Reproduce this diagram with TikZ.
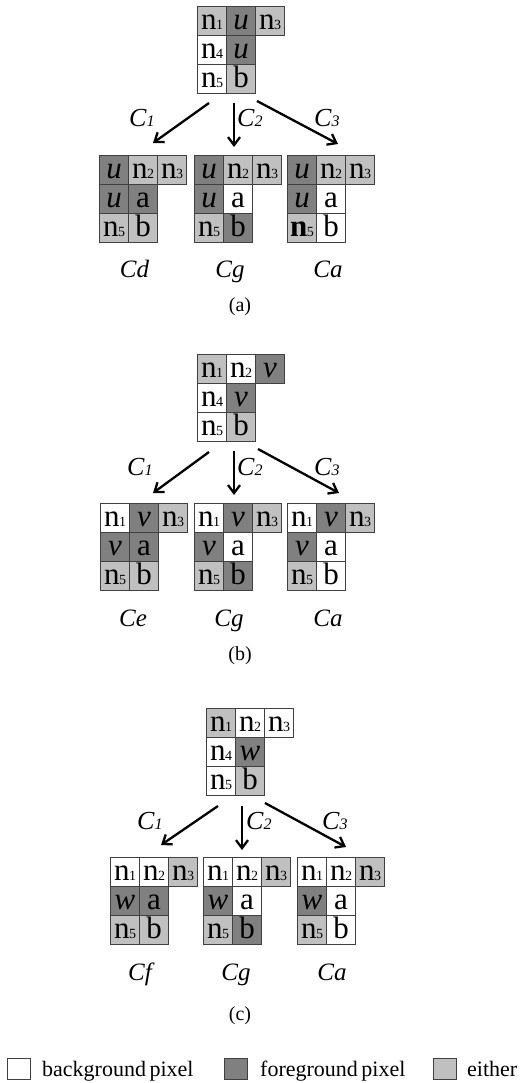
\documentclass[tikz,border=0pt]{standalone}
\usepackage{fontspec}
\setmainfont{Liberation Serif}
\usetikzlibrary{arrows.meta}
\definecolor{fg}{HTML}{808080}
\definecolor{ei}{HTML}{C0C0C0}
\definecolor{bd}{HTML}{404040}
\newcommand{\pxn}[1]{n\kern-0.5pt{\fontsize{14}{14}\selectfont #1}}
\newcommand{\cl}[2]{#1{\fontsize{16}{16}\selectfont #2}}
\tikzset{
 cell/.style={draw=bd, line width=1pt, minimum width=29pt, minimum height=29pt, inner sep=0pt, text height=17pt, text depth=0pt, anchor=north west, font=\fontsize{31}{31}\selectfont},
 bgc/.style={cell, fill=white},
 fgc/.style={cell, fill=fg},
 eic/.style={cell, fill=ei},
 arr/.style={-{Straight Barb[length=8pt,width=12pt]}, line width=2.3pt, black},
 clab/.style={anchor=base west, font=\fontsize{26}{26}\selectfont\itshape, inner sep=0pt},
 glab/.style={anchor=base, font=\fontsize{25}{25}\selectfont\itshape, inner sep=0pt},
 plab/.style={anchor=base, font=\fontsize{20}{20}\selectfont, inner sep=0pt},
 leg/.style={draw=bd, line width=1pt, minimum width=23pt, minimum height=21pt, inner sep=0pt, anchor=north west},
 legt/.style={anchor=base west, font=\fontsize{22}{22}\selectfont, inner sep=0pt},
}
\begin{document}
\begin{tikzpicture}[x=1pt,y=-1pt]
\fill[white] (0,0) rectangle (520,1083);
\useasboundingbox (0,0) rectangle (520,1083);
% ===== (a) =====
\begin{scope}[shift={(197,6)}]
\node[eic] (at1) at (0,0) {\pxn1};
\node[fgc] (at2) at (29,0) {\textit{u}};
\node[eic] (at3) at (58,0) {\pxn3};
\node[bgc] (at4) at (0,29) {\pxn4};
\node[fgc] (at5) at (29,29) {\textit{u}};
\node[bgc] (at6) at (0,58) {\pxn5};
\node[eic] (at7) at (29,58) {b};
\end{scope}
\coordinate (a1s) at (209,103); \coordinate (a1e) at (153,143);
\coordinate (a2s) at (234,103); \coordinate (a2e) at (234,147);
\coordinate (a3s) at (257,101); \coordinate (a3e) at (338,144);
\draw[arr] (a1s) -- (a1e);
\draw[arr] (a2s) -- (a2e);
\draw[arr] (a3s) -- (a3e);
\node[clab] (ac1) at (129,127) {\cl{C}{1}};
\node[clab] (ac2) at (237,127) {\cl{C}{2}};
\node[clab] (ac3) at (314,127) {\cl{C}{3}};
\begin{scope}[shift={(99,155)}]
\node[fgc] (ad1) at (0,0) {\textit{u}};
\node[eic] (ad2) at (29,0) {\pxn2};
\node[eic] (ad3) at (58,0) {\pxn3};
\node[fgc] (ad4) at (0,29) {\textit{u}};
\node[fgc] (ad5) at (29,29) {a};
\node[eic] (ad6) at (0,58) {\pxn5};
\node[eic] (ad7) at (29,58) {b};
\end{scope}
\begin{scope}[shift={(194,155)}]
\node[fgc] (ag1) at (0,0) {\textit{u}};
\node[eic] (ag2) at (29,0) {\pxn2};
\node[eic] (ag3) at (58,0) {\pxn3};
\node[fgc] (ag4) at (0,29) {\textit{u}};
\node[bgc] (ag5) at (29,29) {a};
\node[eic] (ag6) at (0,58) {\pxn5};
\node[fgc] (ag7) at (29,58) {b};
\end{scope}
\begin{scope}[shift={(287,155)}]
\node[fgc] (aa1) at (0,0) {\textit{u}};
\node[eic] (aa2) at (29,0) {\pxn2};
\node[eic] (aa3) at (58,0) {\pxn3};
\node[fgc] (aa4) at (0,29) {\textit{u}};
\node[bgc] (aa5) at (29,29) {a};
\node[eic] (aa6) at (0,58) {\textbf{n}\kern-0.5pt{\fontsize{14}{14}\selectfont 5}};
\node[bgc] (aa7) at (29,58) {b};
\end{scope}
\node[glab] (lad) at (134.5,277) {Cd};
\node[glab] (lag) at (230,277) {Cg};
\node[glab] (laa) at (328,277) {Ca};
\node[plab] (pa) at (240,311) {(a)};
% ===== (b) =====
\begin{scope}[shift={(197,354)}]
\node[eic] (bt1) at (0,0) {\pxn1};
\node[bgc] (bt2) at (29,0) {\pxn2};
\node[fgc] (bt3) at (58,0) {\textit{v}};
\node[bgc] (bt4) at (0,29) {\pxn4};
\node[fgc] (bt5) at (29,29) {\textit{v}};
\node[bgc] (bt6) at (0,58) {\pxn5};
\node[eic] (bt7) at (29,58) {b};
\end{scope}
\coordinate (b1s) at (209,452); \coordinate (b1e) at (153,493);
\coordinate (b2s) at (234,451); \coordinate (b2e) at (234,495);
\coordinate (b3s) at (258,449); \coordinate (b3e) at (339,493);
\draw[arr] (b1s) -- (b1e);
\draw[arr] (b2s) -- (b2e);
\draw[arr] (b3s) -- (b3e);
\node[clab] (bc1) at (127,475) {\cl{C}{1}};
\node[clab] (bc2) at (237,475) {\cl{C}{2}};
\node[clab] (bc3) at (314,475) {\cl{C}{3}};
\begin{scope}[shift={(100,503)}]
\node[bgc] (be1) at (0,0) {\pxn1};
\node[fgc] (be2) at (29,0) {\textit{v}};
\node[eic] (be3) at (58,0) {\pxn3};
\node[fgc] (be4) at (0,29) {\textit{v}};
\node[fgc] (be5) at (29,29) {a};
\node[eic] (be6) at (0,58) {\pxn5};
\node[eic] (be7) at (29,58) {b};
\end{scope}
\begin{scope}[shift={(194,503)}]
\node[bgc] (bg1) at (0,0) {\pxn1};
\node[fgc] (bg2) at (29,0) {\textit{v}};
\node[eic] (bg3) at (58,0) {\pxn3};
\node[fgc] (bg4) at (0,29) {\textit{v}};
\node[bgc] (bg5) at (29,29) {a};
\node[eic] (bg6) at (0,58) {\pxn5};
\node[fgc] (bg7) at (29,58) {b};
\end{scope}
\begin{scope}[shift={(287,503)}]
\node[bgc] (ba1) at (0,0) {\pxn1};
\node[fgc] (ba2) at (29,0) {\textit{v}};
\node[eic] (ba3) at (58,0) {\pxn3};
\node[fgc] (ba4) at (0,29) {\textit{v}};
\node[bgc] (ba5) at (29,29) {a};
\node[eic] (ba6) at (0,58) {\pxn5};
\node[bgc] (ba7) at (29,58) {b};
\end{scope}
\node[glab] (lbe) at (133,626) {Ce};
\node[glab] (lbg) at (229,626) {Cg};
\node[glab] (lba) at (328,626) {Ca};
\node[plab] (pb) at (240,660) {(b)};
% ===== (c) =====
\begin{scope}[shift={(206,708)}]
\node[eic] (ct1) at (0,0) {\pxn1};
\node[bgc] (ct2) at (29,0) {\pxn2};
\node[bgc] (ct3) at (58,0) {\pxn3};
\node[bgc] (ct4) at (0,29) {\pxn4};
\node[fgc] (ct5) at (29,29) {\textit{w}};
\node[bgc] (ct6) at (0,58) {\pxn5};
\node[eic] (ct7) at (29,58) {b};
\end{scope}
\coordinate (c1s) at (218,806); \coordinate (c1e) at (161,845);
\coordinate (c2s) at (242,806); \coordinate (c2e) at (242,850);
\coordinate (c3s) at (265,803); \coordinate (c3e) at (346,847);
\draw[arr] (c1s) -- (c1e);
\draw[arr] (c2s) -- (c2e);
\draw[arr] (c3s) -- (c3e);
\node[clab] (cc1) at (137,829) {\cl{C}{1}};
\node[clab] (cc2) at (246,829) {\cl{C}{2}};
\node[clab] (cc3) at (322,829) {\cl{C}{3}};
\begin{scope}[shift={(110,857)}]
\node[bgc] (cf1) at (0,0) {\pxn1};
\node[bgc] (cf2) at (29,0) {\pxn2};
\node[eic] (cf3) at (58,0) {\pxn3};
\node[fgc] (cf4) at (0,29) {\textit{w}};
\node[fgc] (cf5) at (29,29) {a};
\node[eic] (cf6) at (0,58) {\pxn5};
\node[eic] (cf7) at (29,58) {b};
\end{scope}
\begin{scope}[shift={(203,857)}]
\node[bgc] (cg1) at (0,0) {\pxn1};
\node[bgc] (cg2) at (29,0) {\pxn2};
\node[eic] (cg3) at (58,0) {\pxn3};
\node[fgc] (cg4) at (0,29) {\textit{w}};
\node[bgc] (cg5) at (29,29) {a};
\node[eic] (cg6) at (0,58) {\pxn5};
\node[fgc] (cg7) at (29,58) {b};
\end{scope}
\begin{scope}[shift={(297,857)}]
\node[bgc] (ca1) at (0,0) {\pxn1};
\node[bgc] (ca2) at (29,0) {\pxn2};
\node[eic] (ca3) at (58,0) {\pxn3};
\node[fgc] (ca4) at (0,29) {\textit{w}};
\node[bgc] (ca5) at (29,29) {a};
\node[eic] (ca6) at (0,58) {\pxn5};
\node[bgc] (ca7) at (29,58) {b};
\end{scope}
\node[glab] (lcf) at (140,980) {Cf};
\node[glab] (lcg) at (236,980) {Cg};
\node[glab] (lca) at (332,980) {Ca};
\node[plab] (pc) at (240,1020) {(c)};
% ===== legend =====
\node[leg, fill=white] (k1) at (7,1058) {};
\node[legt] (t1) at (42,1076) {background\kern-2pt\ pixel};
\node[leg, fill=fg] (k2) at (224,1058) {};
\node[legt] (t2) at (260,1076) {foreground\kern-2pt\ pixel};
\node[leg, fill=ei] (k3) at (433,1058) {};
\node[legt] (t3) at (467,1076) {either};
\end{tikzpicture}
\end{document}
